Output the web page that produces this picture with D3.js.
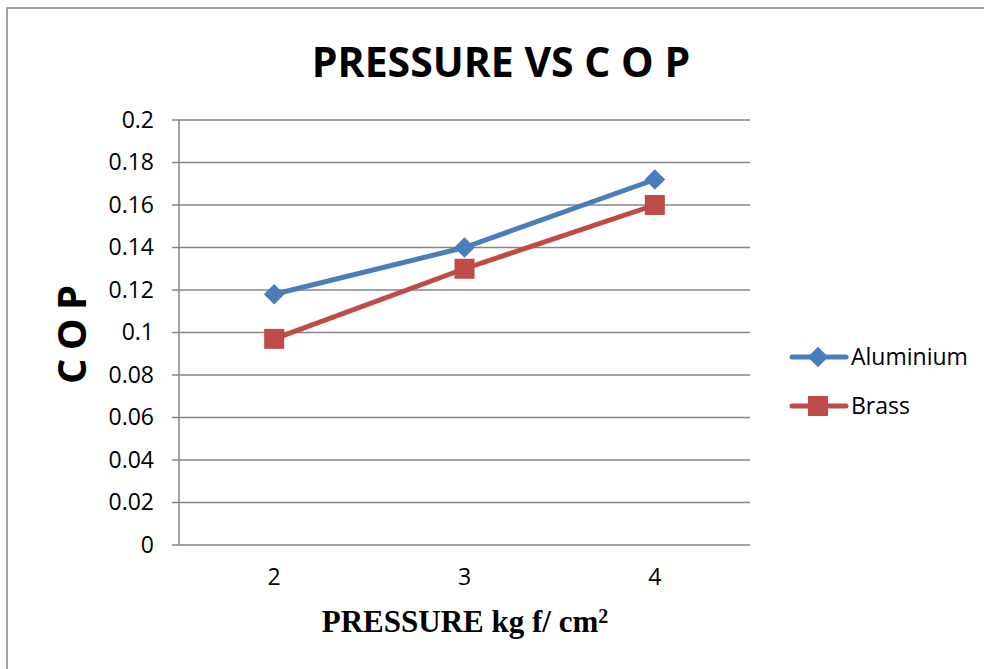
<!DOCTYPE html>
<html><head><meta charset="utf-8">
<script src="https://cdn.jsdelivr.net/npm/d3@7"></script>
<style>body{margin:0;background:#fff}svg{display:block}</style>
</head><body>
<svg id="c" width="984" height="669"></svg>
<script>
const categories = ["2", "3", "4"];
const aluminium = [0.118, 0.14, 0.172];
const brass = [0.097, 0.13, 0.16];
const yTicks = [0, 0.02, 0.04, 0.06, 0.08, 0.1, 0.12, 0.14, 0.16, 0.18, 0.2];
const seriesNames = ["Aluminium", "Brass"];

const svg = d3.select("#c");
const L = 179, R = 750, T = 120, B = 545;
const grid = "#868686";
const font = "Open Sans, sans-serif";

svg.append("rect").attr("x", 7).attr("y", 8).attr("width", 1000).attr("height", 700)
  .attr("fill", "none").attr("stroke", grid).attr("stroke-width", 1.5);

const x = d3.scaleBand().domain(categories).range([L, R]);
const y = d3.scaleLinear().domain([0, 0.2]).range([B, T]);

svg.append("g").selectAll("line").data(yTicks).join("line")
  .attr("x1", L - 7).attr("x2", R).attr("y1", d => y(d)).attr("y2", d => y(d))
  .attr("stroke", grid).attr("stroke-width", 1.5);
svg.append("line").attr("x1", L).attr("x2", L).attr("y1", T).attr("y2", B)
  .attr("stroke", grid).attr("stroke-width", 1.5);

const yAxis = d3.axisLeft(y).tickValues(yTicks).tickFormat(d => String(+d.toFixed(2))).tickSize(0).tickPadding(25);
const ya = svg.append("g").attr("transform", `translate(${L},0)`).call(yAxis);
ya.select(".domain").remove();
ya.selectAll("text").attr("font-family", font).attr("font-size", 23).attr("fill", "#000");

const xAxis = d3.axisBottom(x).tickSize(0).tickPadding(24);
const xa = svg.append("g").attr("transform", `translate(0,${B})`).call(xAxis);
xa.select(".domain").remove();
xa.selectAll("text").attr("font-family", font).attr("font-size", 23).attr("fill", "#000");

svg.append("text").attr("x", 501).attr("y", 77).attr("text-anchor", "middle")
  .attr("font-family", font).attr("font-weight", "bold").attr("font-size", 41)
  .text("PRESSURE VS C O P");

const xt = svg.append("text").attr("x", 465).attr("y", 632).attr("text-anchor", "middle")
  .attr("font-family", "Liberation Serif, serif").attr("font-weight", "bold").attr("font-size", 31);
xt.append("tspan").text("PRESSURE kg f/ cm");
xt.append("tspan").attr("dy", -9).attr("font-size", 20).text("2");

svg.append("text").attr("transform", "translate(86,335) rotate(-90)").attr("text-anchor", "middle")
  .attr("font-family", font).attr("font-weight", "bold").attr("font-size", 40)
  .attr("letter-spacing", -1)
  .text("C O P");

const cx = d => x(d) + x.bandwidth() / 2;
const line = d3.line().x((d, i) => cx(categories[i])).y(d => y(d));
const colors = ["#4A7EBB", "#BE4B48"];
const data = [aluminium, brass];

data.forEach((vals, s) => {
  svg.append("path").datum(vals).attr("d", line).attr("fill", "none")
    .attr("stroke", colors[s]).attr("stroke-width", 5).attr("stroke-linejoin", "round").attr("stroke-linecap", "round");
});
const diamond = d3.symbol().type(d3.symbolDiamond2).size(270);
svg.append("g").selectAll("path").data(aluminium).join("path")
  .attr("d", diamond).attr("transform", (d, i) => `translate(${cx(categories[i])},${y(d)})`)
  .attr("fill", colors[0]);
svg.append("g").selectAll("rect").data(brass).join("rect")
  .attr("x", (d, i) => cx(categories[i]) - 10).attr("y", d => y(d) - 10)
  .attr("width", 20).attr("height", 20).attr("fill", colors[1]);

const legY = [357, 406];
seriesNames.forEach((n, s) => {
  const g = svg.append("g").attr("transform", `translate(0,${legY[s]})`);
  g.append("line").attr("x1", 792).attr("x2", 846).attr("y1", 0).attr("y2", 0)
    .attr("stroke", colors[s]).attr("stroke-width", 5).attr("stroke-linecap", "round");
  if (s === 0) g.append("path").attr("d", diamond).attr("transform", "translate(818,0)").attr("fill", colors[0]);
  else g.append("rect").attr("x", 808).attr("y", -10).attr("width", 20).attr("height", 20).attr("fill", colors[1]);
  g.append("text").attr("x", 851).attr("y", 8).attr("font-family", font)
    .attr("font-size", 23).attr("fill", "#000").text(n);
});
</script>
</body></html>
